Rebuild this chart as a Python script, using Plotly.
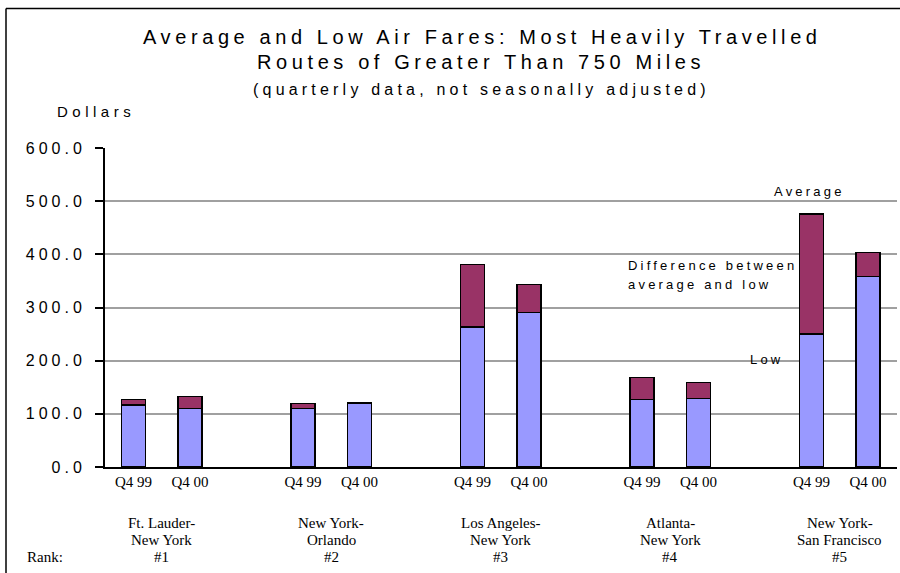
import plotly.graph_objects as go

# ---- data ----
routes_line1 = ["Ft. Lauder-", "New York-", "Los Angeles-", "Atlanta-", "New York-"]
routes_line2 = ["New York", "Orlando", "New York", "New York", "San Francisco"]
ranks = ["#1", "#2", "#3", "#4", "#5"]
periods = ["Q4 99", "Q4 00"]
low_fare = [117, 110, 110, 119, 263, 291, 127, 129, 250, 358]
avg_fare = [127, 133, 119, 120, 381, 343, 168, 159, 476, 403]
y_ticks = [0, 100, 200, 300, 400, 500, 600]

diff = [a - l for a, l in zip(avg_fare, low_fare)]
n_groups = len(routes_line1)
xpos = [g * 3 + p for g in range(n_groups) for p in range(len(periods))]
xlabels = [periods[p] for g in range(n_groups) for p in range(len(periods))]

W, H = 900, 573
L, R, T, B = 105, 897, 147.5, 466.7


def px(x):
    return (x - L) / (R - L)


def py(y):
    return (B - y) / (B - T)


def sp(text, s):
    return '<span style="letter-spacing:%spx">%s</span>' % (s, text)


SANS = "Liberation Sans, Arial, sans-serif"
SERIF = "Liberation Serif, Times New Roman, serif"

fig = go.Figure()
fig.add_trace(go.Bar(x=xpos, y=low_fare, name="Low", width=0.425,
                     marker=dict(color="#9999FF", line=dict(color="black", width=1.5))))
fig.add_trace(go.Bar(x=xpos, y=diff, name="Difference", width=0.425,
                     marker=dict(color="#993366", line=dict(color="black", width=1.5))))

ann = []
# titles
ann.append(dict(text=sp("Average and Low Air Fares: Most Heavily Travelled", 4.6), x=px(482), y=py(36),
                font=dict(size=20, family=SANS, color="black")))
ann.append(dict(text=sp("Routes of Greater Than 750 Miles", 4.6), x=px(481), y=py(61),
                font=dict(size=20, family=SANS, color="black")))
ann.append(dict(text=sp("(quarterly data, not seasonally adjusted)", 4.2), x=px(481), y=py(89),
                font=dict(size=16, family=SANS, color="black")))
ann.append(dict(text=sp("Dollars", 4.5), x=px(96), y=py(111),
                font=dict(size=15, family=SANS, color="black")))
# in-chart labels
for txt, x0, y0 in [("Average", 772, 191), ("Difference between", 626, 265),
                    ("average and low", 626, 284), ("Low", 748, 359)]:
    ann.append(dict(text=sp(txt, 3.2), x=px(x0), y=py(y0), xanchor="left",
                    font=dict(size=13, family=SANS, color="black")))
# route labels
for g in range(n_groups):
    cx = g * 3 + 0.5
    for txt, yy in [(routes_line1[g], 523), (routes_line2[g], 540), (ranks[g], 557)]:
        ann.append(dict(text=txt, x=cx, xref="x", y=py(yy),
                        font=dict(size=15, family=SERIF, color="black")))
ann.append(dict(text="Rank:", x=px(25), y=py(557), xanchor="left",
                font=dict(size=15, family=SERIF, color="black")))

for a in ann:
    a.setdefault("xref", "paper")
    a["yref"] = "paper"
    a.setdefault("xanchor", "center")
    a["yanchor"] = "middle"
    a["showarrow"] = False

fig.update_layout(
    width=W, height=H,
    margin=dict(l=L, r=W - R, t=T, b=H - B),
    paper_bgcolor="white", plot_bgcolor="white",
    barmode="stack", showlegend=False,
    annotations=ann,
    shapes=[
        dict(type="line", xref="paper", yref="paper", x0=px(6), x1=px(6), y0=py(8), y1=py(573),
             line=dict(color="black", width=1.5)),
        dict(type="line", xref="paper", yref="paper", x0=px(6), x1=px(900), y0=py(8), y1=py(8),
             line=dict(color="black", width=1.5)),
    ],
    xaxis=dict(range=[-0.504, 13.513], tickvals=xpos, ticktext=xlabels, ticks="",
               showline=True, linecolor="black", linewidth=2, showgrid=False, zeroline=False,
               tickfont=dict(size=15, family=SERIF, color="black")),
    yaxis=dict(range=[0, 600], tickvals=y_ticks,
               ticktext=[sp("%.1f" % v, 4) for v in y_ticks],
               ticks="outside", ticklen=8, tickwidth=1.5, tickcolor="black",
               ticklabelstandoff=6,
               showline=True, linecolor="black", linewidth=2,
               showgrid=True, gridcolor="#a0a0a0", gridwidth=1.5, zeroline=False,
               tickfont=dict(size=16, family=SANS, color="black")),
)

fig.write_html("out.html", config={"displayModeBar": False},
               post_script="document.body.style.margin='0px';document.body.style.overflow='hidden';")
